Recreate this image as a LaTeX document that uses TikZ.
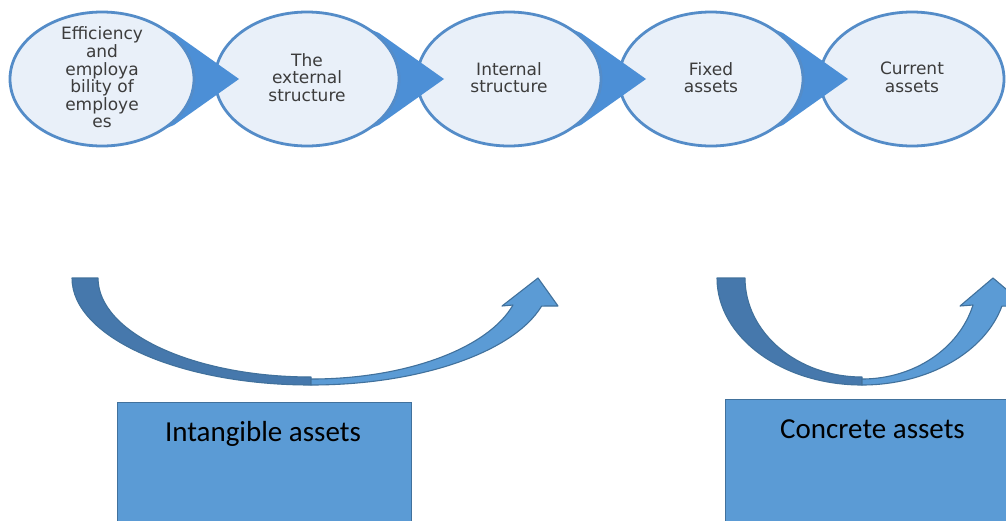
\documentclass[tikz,border=0pt]{standalone}
\usepackage{fontspec}
\setmainfont{Carlito}
\newfontfamily\ellfont{DejaVu Sans}
\usetikzlibrary{shapes.geometric}
\definecolor{ovalfill}{RGB}{233,240,249}
\definecolor{ovalline}{RGB}{84,140,200}
\definecolor{tricol}{RGB}{76,143,214}
\definecolor{textgray}{RGB}{60,60,60}
\definecolor{arrdark}{RGB}{70,120,172}
\definecolor{arrlight}{RGB}{91,155,213}
\definecolor{arrline}{RGB}{65,113,156}
\definecolor{boxfill}{RGB}{91,155,213}
\definecolor{boxline}{RGB}{65,113,156}
\begin{document}
\begin{tikzpicture}[x=1pt,y=-1pt,
  oval/.style={ellipse, draw=ovalline, line width=2.8pt, fill=ovalfill,
    minimum width=184pt, minimum height=134pt, inner sep=0pt},
  ovaltext/.style={font=\ellfont\fontsize{17}{17.6}\selectfont, align=center, text=textgray, inner sep=0pt},
  tri/.style={fill=tricol},
  arrdk/.style={fill=arrdark, draw=arrline, line width=1.1pt, line join=round},
  arrlt/.style={fill=arrlight, draw=arrline, line width=1.1pt, line join=round},
  box/.style={rectangle, fill=boxfill, draw=boxline, line width=1.2pt, inner sep=0pt, anchor=north west},
  boxtext/.style={font=\fontsize{29}{34}\selectfont, text=black, inner sep=0pt, anchor=base}
]
\clip (0,0) rectangle (1006,520);
\fill[white] (0,0) rectangle (1006,520);

\coordinate (c1) at (102,79);
\coordinate (c2) at (307,79);
\coordinate (c3) at (509,79);
\coordinate (c4) at (711,79);
\coordinate (c5) at (912,79);

% ovals and pointers, right to left
\node[oval] (e5) at (c5) {};
\fill[tri, shift={(c4)}] (60,-51) -- (72,-46) -- (137,0) -- (72,46) -- (60,51) -- (30,0) -- cycle;
\node[oval] (e4) at (c4) {};
\fill[tri, shift={(c3)}] (60,-51) -- (72,-46) -- (137,0) -- (72,46) -- (60,51) -- (30,0) -- cycle;
\node[oval] (e3) at (c3) {};
\fill[tri, shift={(c2)}] (60,-51) -- (72,-46) -- (137,0) -- (72,46) -- (60,51) -- (30,0) -- cycle;
\node[oval] (e2) at (c2) {};
\fill[tri, shift={(c1)}] (60,-51) -- (72,-46) -- (137,0) -- (72,46) -- (60,51) -- (30,0) -- cycle;
\node[oval] (e1) at (c1) {};

\node[ovaltext] (t1) at ([yshift=1.5pt]e1.center) {Efficiency\\and\\employa\\bility of\\employe\\es};
\node[ovaltext] (t2) at ([yshift=1.5pt]e2.center) {The\\external\\structure};
\node[ovaltext] (t3) at ([yshift=1.5pt]e3.center) {Internal\\structure};
\node[ovaltext] (t4) at ([yshift=1.5pt]e4.center) {Fixed\\assets};
\node[ovaltext] (t5) at ([yshift=1.5pt]e5.center) {Current\\assets};

% curved arrow 1
\path[arrdk] (72,278) arc[start angle=180, end angle=90, x radius=239, y radius=107]
  -- (311,377) arc[start angle=90, end angle=180, x radius=213, y radius=99] -- cycle;
\path[arrlt] (311,385) arc[start angle=90, end angle=15.2, x radius=239, y radius=107]
  -- (558,306) -- (538,278) -- (502,306) -- (513,305)
  arc[start angle=15.5, end angle=90, x radius=209.6, y radius=101] -- cycle;

% curved arrow 2
\path[arrdk] (717,278) arc[start angle=180, end angle=90, x radius=145, y radius=107]
  -- (862,377) arc[start angle=90, end angle=180, x radius=117, y radius=99] -- cycle;
\path[arrlt] (862,385) arc[start angle=90, end angle=15.2, x radius=145, y radius=107]
  -- (1026,306) -- (993,278) -- (960,306) -- (973,305)
  arc[start angle=15.5, end angle=90, x radius=115.2, y radius=101] -- cycle;

% boxes
\node[box, minimum width=294pt, minimum height=140pt] (b1) at (117,402) {};
\node[box, minimum width=294pt, minimum height=140pt] (b2) at (725,399) {};
\node[boxtext] (l1) at (263,441) {Intangible assets};
\node[boxtext] (l2) at (872.5,438) {Concrete assets};
\end{tikzpicture}
\end{document}
